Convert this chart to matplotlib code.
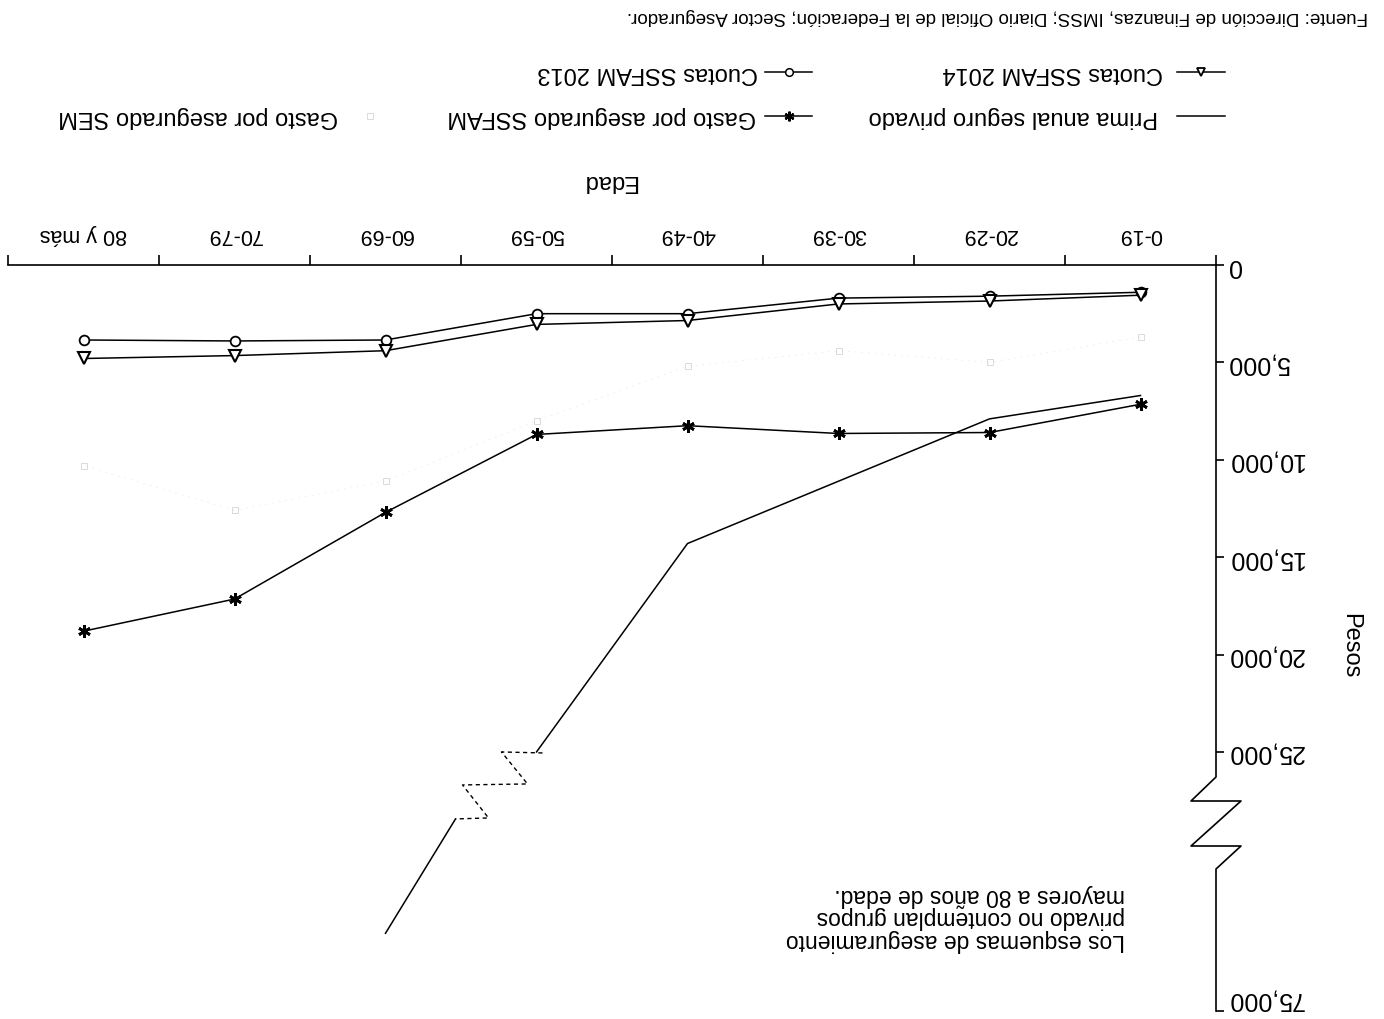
import numpy as np
import matplotlib
matplotlib.use("Agg")
import matplotlib.pyplot as plt
from matplotlib.lines import Line2D
from matplotlib.ticker import NullFormatter, NullLocator

plt.rcParams['font.family'] = ['Liberation Sans', 'DejaVu Sans']

# ---- data -------------------------------------------------------------
edades = ["0-19", "20-29", "30-39", "40-49", "50-59", "60-69", "70-79", "80 y más"]
prima_privado = [6700, 7900, 11100, 14300, 25000, 60000]   # last value lies past the axis break
gasto_ssfam = [7150, 8600, 8650, 8250, 8700, 12700, 17150, 18800]
gasto_sem = [3700, 5000, 4400, 5200, 8000, 11100, 12600, 10300]
cuotas_2014 = [1550, 1850, 2000, 2850, 3050, 4400, 4650, 4800]
cuotas_2013 = [1400, 1600, 1700, 2500, 2500, 3850, 3900, 3850]
y_ticks = [0, 5000, 10000, 15000, 20000, 25000, 75000]
y_tick_labels = ["0", "5,000", "10,000", "15,000", "20,000", "25,000", "75,000"]

fuente = ("Fuente: Dirección de Finanzas, IMSS; Diario Oficial de la Federación; "
          "Sector Asegurador.")
nota = ("Los esquemas de aseguramiento\nprivado no contemplan grupos\n"
        "mayores a 80 años de edad.")

# ---- figure (page is printed upside down) ----------------------------
W, H = 1384, 1020
fig = plt.figure(figsize=(W / 100, H / 100), dpi=100)


def fx(px):
    return px / W


def fy(py):
    return 1 - py / H


AX_L, AX_R, AX_T, AX_B = 8, 1216, 266, 1012
ax = fig.add_axes([fx(AX_L), fy(AX_B), fx(AX_R) - fx(AX_L), fy(AX_T) - fy(AX_B)])

# broken value axis: linear up to 25,000, compressed above
BREAK = 25000
K = 0.266


def fwd(v):
    v = np.asarray(v, dtype=float)
    return np.where(v <= BREAK, v, BREAK + (v - BREAK) * K)


def inv(p):
    p = np.asarray(p, dtype=float)
    return np.where(p <= BREAK, p, BREAK + (p - BREAK) / K)


ax.set_yscale('function', functions=(fwd, inv))
ax.set_xlim(len(edades) - 0.5, -0.5)
ax.set_ylim(75000, 0)

x = np.arange(len(edades))
LW = 1.1

ax.plot(x, gasto_sem, color='#ececec', lw=0.6, ls=(0, (2, 6)),
        marker='s', ms=5, mfc='none', mec='#dadada', mew=0.7)
ax.plot(x, cuotas_2013, color='black', lw=LW, marker='o', ms=7,
        mfc='white', mec='black', mew=1.3)
ax.plot(x, cuotas_2014, color='black', lw=LW, marker='v', ms=8,
        mfc='white', mec='black', mew=1.5)
ax.plot(x, gasto_ssfam, color='black', lw=LW, marker=(6, 2, 0), ms=9, mew=2)
ax.plot(x[:5], prima_privado[:5], color='black', lw=LW)

# dashed break on the private premium line, then its continuation
anchor = ax.transData.transform((x[4], prima_privado[4]))
offs = [(6, 1), (-35, 0), (-9, 32), (-74, 33), (-48, 66), (-81, 67)]
pts = np.array([(anchor[0] + dx, anchor[1] - dy) for dx, dy in offs])
dpts = ax.transData.inverted().transform(pts)
ax.plot(dpts[:, 0], dpts[:, 1], color='black', lw=1.0, ls=(0, (3, 2.5)))
ax.plot([dpts[-1, 0], x[5]], [dpts[-1, 1], prima_privado[5]], color='black', lw=LW)

# ---- axes decoration ---------------------------------------------------
for side in ('left', 'bottom', 'right'):
    ax.spines[side].set_visible(False)
ax.spines['top'].set_linewidth(1.2)


def ay(py):
    return 1 - (py - AX_T) / (AX_B - AX_T)


dz = 25 / (AX_R - AX_L)
ax.add_line(Line2D([1, 1, 1 - dz, 1 + dz, 1 - dz, 1 + dz, 1, 1],
                   [ay(266), ay(778), ay(802), ay(802), ay(847), ay(847), ay(870), ay(1012)],
                   transform=ax.transAxes, color='black', lw=1.2, clip_on=False))

ax.xaxis.tick_top()
ax.set_xticks(np.arange(-0.5, len(edades), 1.0))
ax.xaxis.set_major_formatter(NullFormatter())
ax.set_xticks(x, minor=True)
ax.set_xticklabels(edades, minor=True)
ax.tick_params(axis='x', which='major', direction='out', length=7, width=1.2,
               top=True, bottom=False)
ax.tick_params(axis='x', which='minor', length=0, pad=15, labelsize=15.5,
               labelrotation=180, top=True, bottom=False,
               labeltop=True, labelbottom=False)

ax.yaxis.tick_right()
ax.set_yticks(y_ticks, labels=y_tick_labels)
ax.yaxis.set_minor_locator(NullLocator())
ax.tick_params(axis='y', which='major', direction='out', length=6, width=1.2,
               pad=2, labelsize=18, labelrotation=180, right=True, left=False,
               labelright=True, labelleft=False)
ylabels = ax.get_yticklabels()
for lab in ylabels:
    lab.set_verticalalignment('center')
ylabels[-1].set_verticalalignment('bottom')

fig.text(fx(609), fy(181), "Edad", rotation=180, ha='center', va='center', fontsize=17)
fig.text(fx(1350), fy(646), "Pesos", rotation=270, ha='center', va='center', fontsize=17)
fig.text(fx(1368), fy(17), fuente, rotation=180, ha='right', va='center', fontsize=13.5)
fig.text(fx(1125), fy(918), nota, rotation=180, ha='right', va='center',
         multialignment='left', fontsize=16.5, linespacing=0.95)


# ---- legend, built by hand so it reads upside down ---------------------
def legend_entry(x0, x1, y, text_right, label, show_line=True, **marker_style):
    if show_line:
        fig.add_artist(Line2D([fx(x0), fx(x1)], [fy(y), fy(y)],
                              transform=fig.transFigure, color='black', lw=LW))
    if marker_style:
        fig.add_artist(Line2D([fx((x0 + x1) / 2)], [fy(y)],
                              transform=fig.transFigure, ls='none', **marker_style))
    fig.text(fx(text_right), fy(y), label, rotation=180, ha='right', va='center',
             fontsize=17)


legend_entry(1177, 1225, 117, 1158, "Prima anual seguro privado")
legend_entry(765, 812, 117, 756, "Gasto por asegurado SSFAM",
             marker=(6, 2, 0), ms=7, mew=1.6, color='black')
legend_entry(355, 385, 117, 338, "Gasto por asegurado SEM", show_line=False,
             marker='s', ms=5, mfc='none', mec='#dadada', mew=0.7)
legend_entry(1177, 1225, 73, 1163, "Cuotas SSFAM 2014",
             marker='v', ms=6, mfc='white', mec='black', mew=1.3)
legend_entry(765, 812, 73, 758, "Cuotas SSFAM 2013",
             marker='o', ms=5.5, mfc='white', mec='black', mew=1.1)

fig.savefig("out.png", dpi=100)
